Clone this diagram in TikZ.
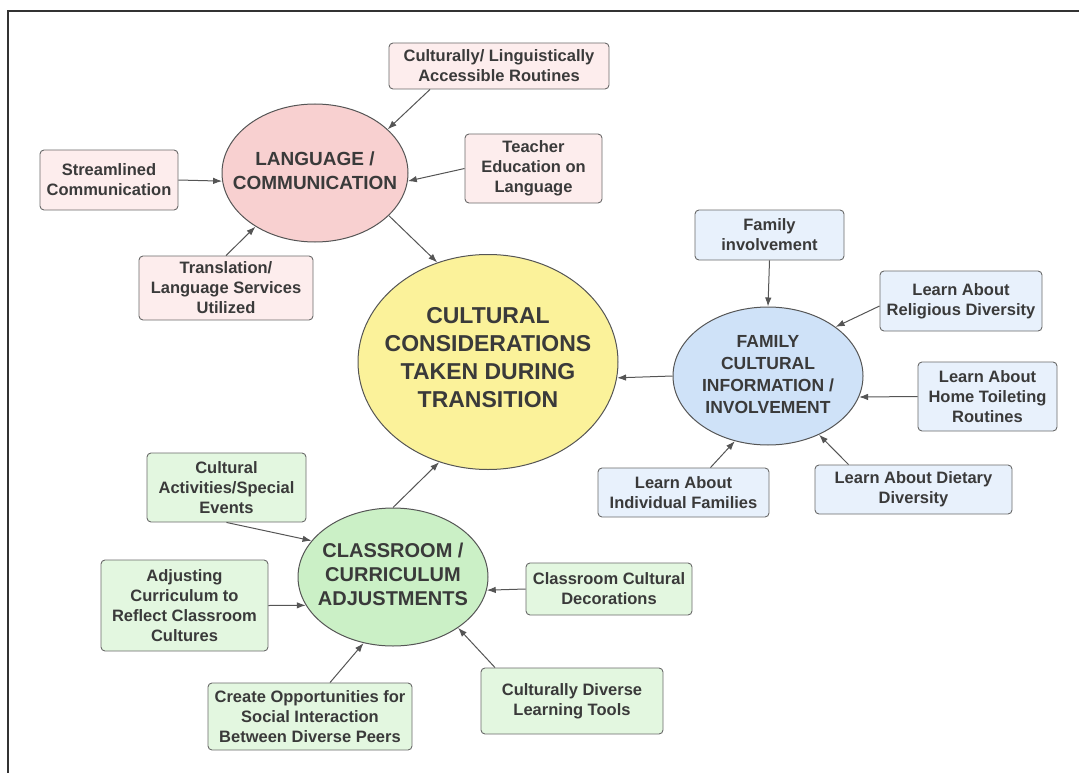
\documentclass[tikz,border=0pt]{standalone}
\usepackage{fontspec}
\setmainfont{Liberation Sans}
\usetikzlibrary{shapes.geometric,arrows.meta,calc}

\definecolor{ink}{HTML}{3A3A3A}
\definecolor{edgegray}{HTML}{555555}
\definecolor{boxline}{HTML}{6A6A6A}
\definecolor{frameline}{HTML}{333333}
\definecolor{hubyellow}{HTML}{FBF29A}
\definecolor{hubpink}{HTML}{F8D0D0}
\definecolor{boxpink}{HTML}{FDEDED}
\definecolor{hubblue}{HTML}{CFE2F8}
\definecolor{boxblue}{HTML}{E8F1FC}
\definecolor{hubgreen}{HTML}{CBF0C6}
\definecolor{boxgreen}{HTML}{E3F7E0}

\begin{document}
\begin{tikzpicture}[x=1pt,y=-1pt,
  box/.style={draw=boxline, line width=0.9pt, rounded corners=4pt, align=center,
    inner sep=0pt, text=ink, font=\fontsize{16.5}{20}\selectfont\bfseries},
  hub/.style={ellipse, draw=edgegray, line width=1pt, inner sep=0pt},
  hubtext/.style={align=center, text=ink},
  arr/.style={draw=edgegray, line width=1pt, -{Latex[length=9pt,width=6.5pt]}}]

\useasboundingbox (0,0) rectangle (1079,773);

% frame along the top and left edges
\draw[frameline, line width=2pt] (8,773) -- (8,11) -- (1079,11);

% central topic
\node[hub, fill=hubyellow, minimum width=260pt, minimum height=215pt,
  label={[hubtext, font=\fontsize{23}{28}\selectfont\bfseries, yshift=4pt]center:CULTURAL\\CONSIDERATIONS\\TAKEN DURING\\TRANSITION}] (cen) at (488,362) {};

% sub-topics
\node[hub, fill=hubpink, minimum width=186pt, minimum height=138pt,
  label={[hubtext, font=\fontsize{19}{24}\selectfont\bfseries, yshift=2pt]center:LANGUAGE /\\COMMUNICATION}] (lang) at (315,173) {};
\node[hub, fill=hubblue, minimum width=190pt, minimum height=138pt,
  label={[hubtext, font=\fontsize{17.5}{22}\selectfont\bfseries, yshift=1pt]center:FAMILY\\CULTURAL\\INFORMATION /\\INVOLVEMENT}] (fam) at (768,376) {};
\node[hub, fill=hubgreen, minimum width=190pt, minimum height=138pt,
  label={[hubtext, font=\fontsize{20}{24}\selectfont\bfseries, yshift=3pt]center:CLASSROOM /\\CURRICULUM\\ADJUSTMENTS}] (cls) at (393,577) {};

% language / communication items
\node[box, fill=boxpink, minimum width=220pt, minimum height=46pt] (cul) at (499,66) {Culturally/ Linguistically\\Accessible Routines};
\node[box, fill=boxpink, minimum width=138pt, minimum height=60pt] (str) at (109,180) {Streamlined\\Communication};
\node[box, fill=boxpink, minimum width=137pt, minimum height=69pt] (tea) at (533.5,168.5) {Teacher\\Education on\\Language};
\node[box, fill=boxpink, minimum width=174pt, minimum height=64pt] (tra) at (226,288) {Translation/\\Language Services\\Utilized};

% family items
\node[box, fill=boxblue, minimum width=149pt, minimum height=50pt] (fin) at (769.5,235) {Family\\involvement};
\node[box, fill=boxblue, minimum width=162pt, minimum height=60pt] (rel) at (961,301) {Learn About\\Religious Diversity};
\node[box, fill=boxblue, minimum width=139pt, minimum height=69pt] (toi) at (987.5,396.5) {Learn About\\Home Toileting\\Routines};
\node[box, fill=boxblue, minimum width=197pt, minimum height=49pt] (die) at (913.5,489.5) {Learn About Dietary\\Diversity};
\node[box, fill=boxblue, minimum width=171pt, minimum height=49pt] (ind) at (683.5,492.5) {Learn About\\Individual Families};

% classroom items
\node[box, fill=boxgreen, minimum width=159pt, minimum height=69pt] (act) at (226.5,487.5) {Cultural\\Activities/Special\\Events};
\node[box, fill=boxgreen, minimum width=167pt, minimum height=91pt] (adj) at (184.5,605.5) {Adjusting\\Curriculum to\\Reflect Classroom\\Cultures};
\node[box, fill=boxgreen, minimum width=166pt, minimum height=52pt] (dec) at (609,589) {Classroom Cultural\\Decorations};
\node[box, fill=boxgreen, minimum width=182pt, minimum height=66pt] (cdv) at (572,701) {Culturally Diverse\\Learning Tools};
\node[box, fill=boxgreen, minimum width=204pt, minimum height=67pt] (cop) at (310,716.5) {Create Opportunities for\\Social Interaction\\Between Diverse Peers};

% connectors
\draw[arr] ([xshift=-69pt]cul.south) -- (lang.31);
\draw[arr] (str.east) -- (lang.185);
\draw[arr] (tea.west) -- (lang.-5);
\draw[arr] (tra.north) -- (lang.222);
\draw[arr] (lang.-30) -- (cen.117);

\draw[arr] (fin.south) -- (fam.north);
\draw[arr] ([yshift=-5pt]rel.west) -- (fam.36);
\draw[arr] (toi.west) -- (fam.-13);
\draw[arr] ([xshift=-65pt]die.north) -- (fam.-49);
\draw[arr] ([xshift=27pt]ind.north) -- (fam.243);
\draw[arr] (fam.west) -- (cen.-7);

\draw[arr] (cls.north) -- (cen.244);
\draw[arr] (act.south) -- (cls.156);
\draw[arr] (adj.east) -- (cls.198);
\draw[arr] (dec.west) -- (cls.-8);
\draw[arr] ([xshift=-77pt]cdv.north) -- (cls.-38);
\draw[arr] ([xshift=20pt]cop.north) -- (cls.246);
\end{tikzpicture}
\end{document}
